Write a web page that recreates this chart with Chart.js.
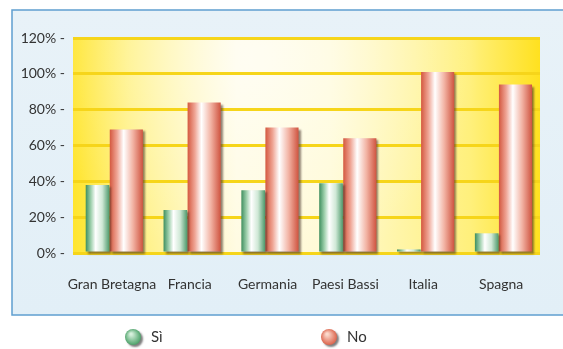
<!DOCTYPE html>
<html><head><meta charset="utf-8">
<script src="https://cdn.jsdelivr.net/npm/chart.js@4"></script>
<style>html,body{margin:0;padding:0;background:#fff}#wrap{width:563px;height:349px}</style>
</head><body><div id="wrap"><canvas id="c" width="563" height="349"></canvas></div>
<script>
const categories = ['Gran Bretagna', 'Francia', 'Germania', 'Paesi Bassi', 'Italia', 'Spagna'];
const seriesSi = [38, 24, 35, 39, 2, 11];
const seriesNo = [69, 84, 70, 64, 101, 94];
const seriesLabels = ['Sì', 'No'];
const yTicks = [0, 20, 40, 60, 80, 100, 120];

const CAT_PCT = 0.74;
const BAR_PCT = [0.82, 1.15];
const greenStops = ['#3f8f5f', '#9fd0ad', '#ffffff', '#cfe8d6', '#4f9a6c'];
const redStops = ['#d4583f', '#efa595', '#ffffff', '#f2b3a4', '#cf5440'];

function barFill(stops) {
  return function (context) {
    const chart = context.chart;
    const xs = chart.scales.x;
    if (!chart.chartArea || !xs || context.dataIndex === undefined) return stops[0];
    const ds = context.datasetIndex;
    const catW = xs.width / categories.length;
    const center = xs.getPixelForValue(context.dataIndex);
    const group = catW * CAT_PCT;
    const slot = group / 2;
    const slotCenter = center - group / 2 + slot * (ds + 0.5);
    const w = slot * BAR_PCT[ds];
    const left = slotCenter - w / 2;
    const g = chart.ctx.createLinearGradient(left, 0, left + w, 0);
    g.addColorStop(0, stops[0]);
    g.addColorStop(0.22, stops[1]);
    g.addColorStop(0.42, stops[2]);
    g.addColorStop(0.7, stops[3]);
    g.addColorStop(1, stops[4]);
    return g;
  };
}

const backdrop = {
  id: 'backdrop',
  beforeDraw(chart) {
    const c = chart.ctx;
    const a = chart.chartArea;
    c.save();
    c.fillStyle = '#ffffff';
    c.fillRect(0, 0, chart.width, chart.height);
    const pg = c.createLinearGradient(0, 10, 0, 315);
    pg.addColorStop(0, '#e8f2f8');
    pg.addColorStop(1, '#e2eff7');
    c.fillStyle = pg;
    c.fillRect(12, 10, chart.width, 305);
    c.strokeStyle = '#5f9fd0';
    c.lineWidth = 1.5;
    c.strokeRect(12, 10, chart.width + 10, 305);
    const yg = c.createLinearGradient(a.left, 0, a.right, 0);
    yg.addColorStop(0, '#ffe52e');
    yg.addColorStop(0.12, '#fff07a');
    yg.addColorStop(0.35, '#fffbe0');
    yg.addColorStop(0.55, '#fffad2');
    yg.addColorStop(0.85, '#fff07c');
    yg.addColorStop(1, '#ffe11f');
    c.fillStyle = yg;
    c.fillRect(a.left, a.top, a.right - a.left, a.bottom - a.top);
    const rg = c.createRadialGradient(a.left + (a.right - a.left) * 0.4, a.top + 20, 10, a.left + (a.right - a.left) * 0.4, a.top + 20, 220);
    rg.addColorStop(0, 'rgba(255,255,255,0.6)');
    rg.addColorStop(1, 'rgba(255,255,255,0)');
    c.fillStyle = rg;
    c.fillRect(a.left, a.top, a.right - a.left, a.bottom - a.top);
    c.restore();
  }
};

const shadow = {
  id: 'shadow',
  beforeDatasetsDraw(chart) {
    const c = chart.ctx;
    c.save();
    c.shadowColor = 'rgba(70,50,40,0.6)';
    c.shadowOffsetX = 2;
    c.shadowOffsetY = 2;
    c.shadowBlur = 2;
  },
  afterDatasetsDraw(chart) {
    chart.ctx.restore();
  }
};

const customLegend = {
  id: 'customLegend',
  afterDraw(chart) {
    const c = chart.ctx;
    const items = [
      { x: 133, base: '#3f9a5e', light: '#d6f0dc' },
      { x: 329, base: '#d9583f', light: '#fbd9cc' }
    ];
    c.save();
    items.forEach((it, i) => {
      const y = 337;
      c.save();
      c.shadowColor = 'rgba(40,40,40,0.6)';
      c.shadowOffsetX = 2;
      c.shadowOffsetY = 2;
      c.shadowBlur = 2;
      const g = c.createRadialGradient(it.x - 2, y - 3, 1, it.x, y, 9);
      g.addColorStop(0, it.light);
      g.addColorStop(1, it.base);
      c.fillStyle = g;
      c.beginPath();
      c.arc(it.x, y, 8, 0, Math.PI * 2);
      c.fill();
      c.restore();
      c.fillStyle = '#333333';
      c.font = '15px Lato';
      c.textBaseline = 'middle';
      c.fillText(chart.data.datasets[i].label, it.x + 18, y);
    });
    c.restore();
  }
};

new Chart(document.getElementById('c'), {
  type: 'bar',
  data: {
    labels: categories,
    datasets: [
      { label: seriesLabels[0], data: seriesSi, backgroundColor: barFill(greenStops), barPercentage: BAR_PCT[0], categoryPercentage: CAT_PCT, clip: false, borderWidth: 0 },
      { label: seriesLabels[1], data: seriesNo, backgroundColor: barFill(redStops), barPercentage: BAR_PCT[1], categoryPercentage: CAT_PCT, clip: false, borderWidth: 0 }
    ]
  },
  options: {
    responsive: false,
    animation: false,
    layout: { padding: { left: 12, right: 23, top: 38, bottom: 46 } },
    plugins: { legend: { display: false }, tooltip: { enabled: false } },
    scales: {
      x: {
        grid: { display: false },
        border: { display: false },
        ticks: { color: '#333333', font: { family: 'Lato', size: 14 }, padding: 15, maxRotation: 0, autoSkip: false },
        afterFit(s) { s.height = 50; }
      },
      y: {
        min: 0, max: 120,
        afterBuildTicks(s) { s.ticks = yTicks.map(v => ({ value: v })); },
        grid: { color: '#f6d51a', lineWidth: 3, drawTicks: false },
        border: { display: false },
        ticks: { color: '#333333', font: { family: 'Lato', size: 14 }, padding: 8, callback: v => v + '% -' },
        afterFit(s) { s.width = 61; }
      }
    }
  },
  plugins: [backdrop, shadow, customLegend]
});
</script>
</body></html>
